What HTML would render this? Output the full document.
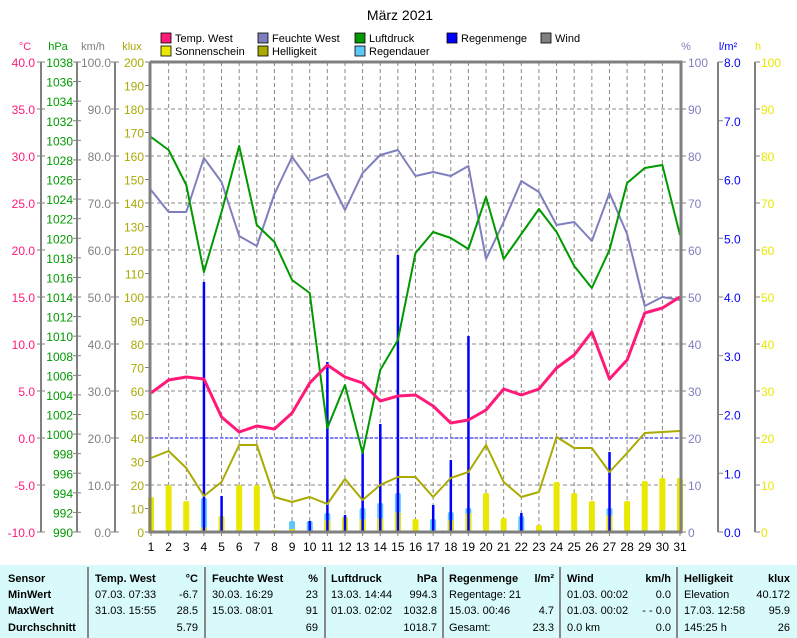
<!DOCTYPE html>
<html><head><meta charset="utf-8"><style>
body{margin:0;background:#fff;}
svg{display:block;font-family:"Liberation Sans",sans-serif;}
</style></head><body>
<svg width="797" height="638" xmlns="http://www.w3.org/2000/svg">
<rect width="797" height="638" fill="#fff"/>
<text x="400" y="20" font-size="14" text-anchor="middle">März 2021</text>
<!-- legend -->
<g font-size="11">
<rect x="161" y="33" width="10" height="10" fill="#ff1a7a" stroke="#000" stroke-width="0.8"/><text x="175" y="42">Temp. West</text>
<rect x="258" y="33" width="10" height="10" fill="#7f7fbf" stroke="#000" stroke-width="0.8"/><text x="272" y="42">Feuchte West</text>
<rect x="355" y="33" width="10" height="10" fill="#009900" stroke="#000" stroke-width="0.8"/><text x="369" y="42">Luftdruck</text>
<rect x="447" y="33" width="10" height="10" fill="#0000ff" stroke="#000" stroke-width="0.8"/><text x="461" y="42">Regenmenge</text>
<rect x="541" y="33" width="10" height="10" fill="#808080" stroke="#000" stroke-width="0.8"/><text x="555" y="42">Wind</text>
<rect x="161" y="46" width="10" height="10" fill="#e8e800" stroke="#000" stroke-width="0.8"/><text x="175" y="55">Sonnenschein</text>
<rect x="258" y="46" width="10" height="10" fill="#aaaa00" stroke="#000" stroke-width="0.8"/><text x="272" y="55">Helligkeit</text>
<rect x="355" y="46" width="10" height="10" fill="#5bc8f5" stroke="#000" stroke-width="0.8"/><text x="369" y="55">Regendauer</text>
</g>
<!-- unit headers -->
<g font-size="11">
<text x="25" y="50" fill="#ff1a7a" text-anchor="middle">°C</text>
<text x="58" y="50" fill="#009900" text-anchor="middle">hPa</text>
<text x="93" y="50" fill="#808080" text-anchor="middle">km/h</text>
<text x="132" y="50" fill="#aaaa00" text-anchor="middle">klux</text>
<text x="686" y="50" fill="#7f7fbf" text-anchor="middle">%</text>
<text x="728" y="50" fill="#0000ff" text-anchor="middle">l/m²</text>
<text x="758" y="50" fill="#e8e800" text-anchor="middle">h</text>
</g>
<g id="axes" font-size="12"></g>
<g id="plot"></g>
<!-- table -->
<rect x="0" y="565" width="797" height="73" fill="#d8fafa"/>
<g stroke="#888" stroke-width="2">
<line x1="88" y1="567" x2="88" y2="638"/><line x1="205" y1="567" x2="205" y2="638"/><line x1="325" y1="567" x2="325" y2="638"/>
<line x1="443" y1="567" x2="443" y2="638"/><line x1="560" y1="567" x2="560" y2="638"/><line x1="677" y1="567" x2="677" y2="638"/>
</g>
<g font-size="11">
<g font-weight="bold"><text x="8" y="582">Sensor</text><text x="8" y="598">MinWert</text><text x="8" y="614">MaxWert</text><text x="8" y="631">Durchschnitt</text>
<text x="95" y="582">Temp. West</text><text x="198" y="582" text-anchor="end">°C</text>
<text x="212" y="582">Feuchte West</text><text x="318" y="582" text-anchor="end">%</text>
<text x="331" y="582">Luftdruck</text><text x="437" y="582" text-anchor="end">hPa</text>
<text x="449" y="582">Regenmenge</text><text x="554" y="582" text-anchor="end">l/m²</text>
<text x="567" y="582">Wind</text><text x="671" y="582" text-anchor="end">km/h</text>
<text x="684" y="582">Helligkeit</text><text x="790" y="582" text-anchor="end">klux</text></g>
<text x="95" y="598">07.03.  07:33</text><text x="198" y="598" text-anchor="end">-6.7</text>
<text x="95" y="614">31.03.  15:55</text><text x="198" y="614" text-anchor="end">28.5</text>
<text x="198" y="631" text-anchor="end">5.79</text>
<text x="212" y="598">30.03.  16:29</text><text x="318" y="598" text-anchor="end">23</text>
<text x="212" y="614">15.03.  08:01</text><text x="318" y="614" text-anchor="end">91</text>
<text x="318" y="631" text-anchor="end">69</text>
<text x="331" y="598">13.03.  14:44</text><text x="437" y="598" text-anchor="end">994.3</text>
<text x="331" y="614">01.03.  02:02</text><text x="437" y="614" text-anchor="end">1032.8</text>
<text x="437" y="631" text-anchor="end">1018.7</text>
<text x="449" y="598">Regentage: 21</text>
<text x="449" y="614">15.03.  00:46</text><text x="554" y="614" text-anchor="end">4.7</text>
<text x="449" y="631">Gesamt:</text><text x="554" y="631" text-anchor="end">23.3</text>
<text x="567" y="598">01.03.  00:02</text><text x="671" y="598" text-anchor="end">0.0</text>
<text x="567" y="614">01.03.  00:02</text><text x="671" y="614" text-anchor="end">- - 0.0</text>
<text x="567" y="631">0.0 km</text><text x="671" y="631" text-anchor="end">0.0</text>
<text x="684" y="598">Elevation</text><text x="790" y="598" text-anchor="end">40.172</text>
<text x="684" y="614">17.03.  12:58</text><text x="790" y="614" text-anchor="end">95.9</text>
<text x="684" y="631">145:25 h</text><text x="790" y="631" text-anchor="end">26</text>
</g>
<script>
(function(){
var NS="http://www.w3.org/2000/svg";
function el(p,t,a,txt){var e=document.createElementNS(NS,t);for(var k in a)e.setAttribute(k,a[k]);if(txt!=null)e.textContent=txt;p.appendChild(e);return e;}
var ax=document.getElementById("axes"),pl=document.getElementById("plot");
var T=62,B=532,L=150,R=681;
function X(d){return 151+(d-1)*(529/30);}
// grid
for(var i=1;i<10;i++){var y=T+i*47;el(pl,"line",{x1:L,y1:y,x2:R,y2:y,stroke:"#888","stroke-dasharray":"4,3","stroke-width":1});}
for(var d=2;d<=30;d++){var x=X(d);el(pl,"line",{x1:x,y1:T,x2:x,y2:B,stroke:"#888","stroke-dasharray":"4,3","stroke-width":1});}
el(pl,"line",{x1:L,y1:438,x2:R,y2:438,stroke:"#0000ff","stroke-dasharray":"3,2","stroke-width":1});
// left axes
function vaxis(x,n,fmt,col,anchorX,steps){el(ax,"line",{x1:x,y1:T,x2:x,y2:B,stroke:"#808080","stroke-width":2});
 for(var i=0;i<=steps;i++){var y=T+i*(470/steps);el(ax,"line",{x1:x-4,y1:y,x2:x+4,y2:y,stroke:"#808080"});var s=fmt(i);if(s!=null)el(ax,"text",{x:anchorX,y:y+5,fill:col,"text-anchor":"end"},s);}}
vaxis(41,0,function(i){return i%1==0?(40-i*5).toFixed(1):null},"#ff1a7a",35,10);
vaxis(77,0,function(i){return String(1038-i*2)},"#009900",73,24);
vaxis(115,0,function(i){return (100-i*10).toFixed(1)},"#808080",111,10);
for(var i=0;i<=20;i++){var y=T+i*23.5;el(ax,"line",{x1:L-5,y1:y,x2:L,y2:y,stroke:"#808080"});el(ax,"text",{x:144,y:y+5,fill:"#aaaa00","text-anchor":"end"},String(200-i*10));}
// right axes
for(var i=0;i<=10;i++){var y=T+i*47;el(ax,"line",{x1:R,y1:y,x2:R+5,y2:y,stroke:"#808080"});el(ax,"text",{x:688,y:y+5,fill:"#7f7fbf"},String(100-i*10));}
el(ax,"line",{x1:718,y1:T,x2:718,y2:B,stroke:"#808080","stroke-width":2});
for(var i=0;i<=8;i++){var y=T+i*58.75;el(ax,"line",{x1:718,y1:y,x2:723,y2:y,stroke:"#808080"});el(ax,"text",{x:724,y:y+5,fill:"#0000ff"},(8-i).toFixed(1));}
el(ax,"line",{x1:755,y1:T,x2:755,y2:B,stroke:"#808080","stroke-width":2});
for(var i=0;i<=10;i++){var y=T+i*47;el(ax,"line",{x1:755,y1:y,x2:760,y2:y,stroke:"#808080"});el(ax,"text",{x:761,y:y+5,fill:"#e8e800"},String(100-i*10));}
for(var d=1;d<=31;d++){el(ax,"text",{x:X(d),y:551,"text-anchor":"middle"},String(d));el(ax,"line",{x1:X(d),y1:B,x2:X(d),y2:B+4,stroke:"#808080"});}
// bars
var sun=[497,485,501,527,516,485,485,530,529,531,520,517,519,518,512,519,530,520,513,493,518,530,525,482,493,501,515,501,481,478,478];
var cy={4:498,9:521,10:521,11:513,12:517,13:508,14:503,15:493,17:519,18:512,19:508,22:516,27:508};
var rain={4:282,5:496,10:521,11:362,12:515,13:452,14:424,15:255,17:505,18:460,19:336,22:513,27:452};
for(var d in cy){el(pl,"rect",{x:X(+d)-3,y:cy[d],width:6,height:B-cy[d],fill:"#5bc8f5",rx:2});}
for(var d=1;d<=31;d++){var t=sun[d-1];var sv=t; if(cy[d]){sv=Math.max(t,B-(B-t));} el(pl,"rect",{x:X(d)-3,y:t,width:6,height:B-t,fill:"#e8e800",rx:2});}
for(var d in rain){el(pl,"rect",{x:X(+d)-1.2,y:rain[d],width:2.5,height:B-rain[d],fill:"#0000ff"});}
function line(arr,col){var p=arr.map(function(v,i){return X(i+1)+","+v}).join(" ");el(pl,"polyline",{points:p,fill:"none",stroke:col,"stroke-width":2,"stroke-linejoin":"round"});}
line([458,451,468,496,482,445,445,497,502,497,504,479,500,485,477,477,497,478,472,445,482,497,492,437,448,448,472,453,433,432,431],"#aaaa00");
line([190,212,212,158,182,236,246,194,157,181,174,210,173,155,150,176,172,176,166,259,222,181,192,225,222,241,193,234,306,297,300],"#7f7fbf");
line([137,150,185,272,212,146,225,242,280,293,428,385,453,370,340,253,232,238,249,197,259,234,209,232,266,288,250,183,168,165,235],"#009900");
var tp=[393,380,377,379,417,432,426,429,413,383,365,377,383,401,396,395,406,423,420,410,389,395,389,368,355,332,379,360,313,308,297];
el(pl,"polyline",{points:tp.map(function(v,i){return X(i+1)+","+v}).join(" "),fill:"none",stroke:"#ff1a7a","stroke-width":3,"stroke-linejoin":"round"});
// frame
el(pl,"polyline",{points:L+","+T+" "+R+","+T+" "+R+","+B+" "+L+","+B+" "+L+","+T,fill:"none",stroke:"#808080","stroke-width":3});
})();
</script>
</svg>
</body></html>
